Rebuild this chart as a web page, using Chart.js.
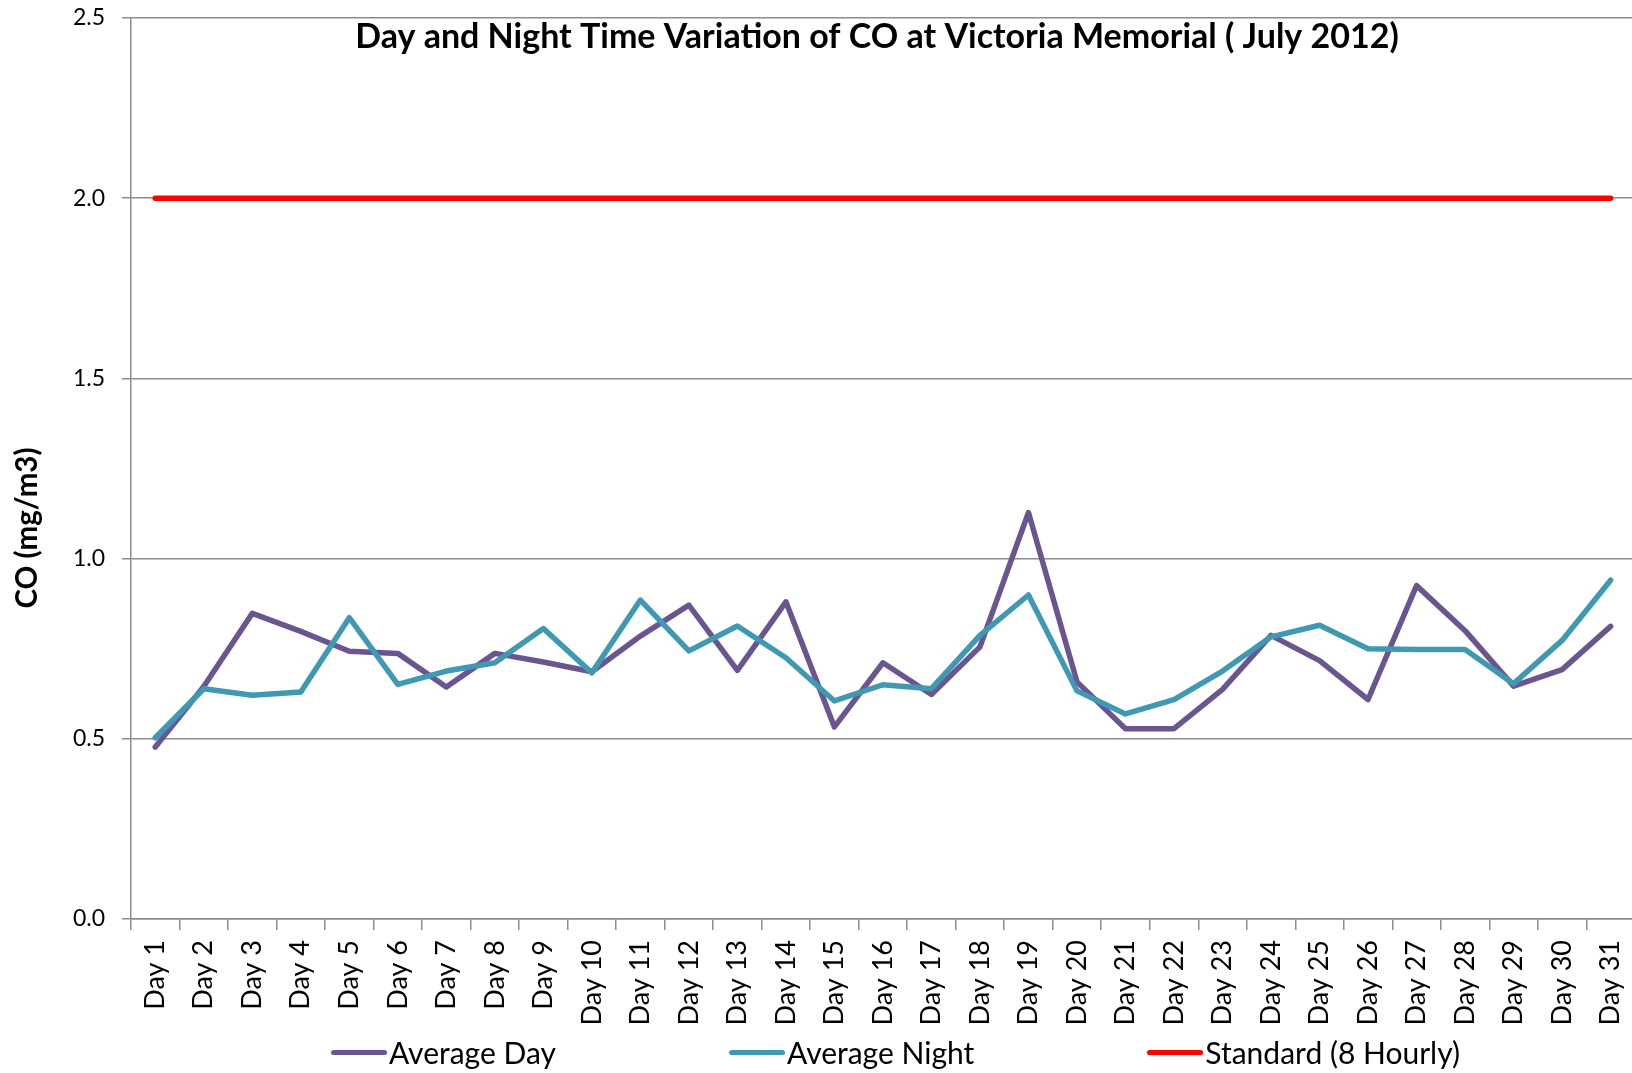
<!doctype html>
<html lang="en">
<head>
  <meta charset="utf-8">
  <title>CO at Victoria Memorial</title>
  <style>
    html, body { margin: 0; padding: 0; overflow: hidden; background: #fff; }
    #wrap { position: relative; width: 1653px; height: 1073px; }
    #legend {
      position: absolute; left: 331px; width: 1129px; top: 1034px;
      display: flex; justify-content: space-between; align-items: center;
      font-family: Lato, sans-serif; font-size: 30px; color: #000;
    }
    #legend .item { display: flex; align-items: center; white-space: nowrap; }
    #legend .swatch { width: 56px; height: 5px; border-radius: 3px; margin-right: 2px; }
  </style>
</head>
<body>
  <div id="wrap">
    <canvas id="myChart"></canvas>
    <div id="legend"></div>
  </div>
  <script src="https://cdn.jsdelivr.net/npm/chart.js"></script>
  <script>
    const days = Array.from({length: 31}, (_, i) => 'Day ' + (i + 1));

    const averageDay = [
      0.477, 0.645, 0.848, 0.798, 0.743, 0.737, 0.644, 0.737, 0.713, 0.686,
      0.785, 0.871, 0.690, 0.880, 0.533, 0.711, 0.623, 0.755, 1.128, 0.658,
      0.528, 0.528, 0.637, 0.787, 0.717, 0.609, 0.925, 0.800, 0.646, 0.692,
      0.812
    ];
    const averageNight = [
      0.503, 0.639, 0.621, 0.630, 0.836, 0.651, 0.688, 0.711, 0.806, 0.683,
      0.885, 0.744, 0.813, 0.725, 0.605, 0.650, 0.639, 0.787, 0.899, 0.633,
      0.569, 0.609, 0.688, 0.783, 0.815, 0.750, 0.748, 0.748, 0.653, 0.773,
      0.940
    ];
    const standard = Array(31).fill(2.0);
    const yTicks = [0, 0.5, 1.0, 1.5, 2.0, 2.5];

    const COLORS = {
      day: '#6B5591',
      night: '#3F99B2',
      standard: '#FF0000',
      grid: '#8C8C8C'
    };

    const FONT = 'Lato, sans-serif';

    const data = {
      labels: days,
      datasets: [
        { label: 'Average Day', data: averageDay, borderColor: COLORS.day, order: 2 },
        { label: 'Average Night', data: averageNight, borderColor: COLORS.night, order: 1 },
        { label: 'Standard (8 Hourly)', data: standard, borderColor: COLORS.standard, order: 0 }
      ]
    };
    data.datasets.forEach(ds => {
      ds.backgroundColor = ds.borderColor;
      ds.borderWidth = 5.5;
      ds.pointRadius = 0;
      ds.tension = 0;
      ds.fill = false;
      ds.borderCapStyle = 'round';
      ds.borderJoinStyle = 'round';
    });

    // title and y axis title sit inside / beside the plot like the Excel original
    const overlayText = {
      id: 'overlayText',
      afterDraw(chart) {
        const ctx = chart.ctx;
        ctx.save();
        ctx.fillStyle = '#000';
        ctx.textAlign = 'center';
        ctx.textBaseline = 'middle';
        ctx.font = 'bold 34px ' + FONT;
        ctx.fillText('Day and Night Time Variation of CO at Victoria Memorial ( July 2012)', 877, 37);
        ctx.translate(27, 528);
        ctx.rotate(-Math.PI / 2);
        ctx.font = 'bold 29.5px ' + FONT;
        ctx.fillText('CO (mg/m3)', 0, 0);
        ctx.restore();
      }
    };

    const config = {
      type: 'line',
      data: data,
      plugins: [overlayText],
      options: {
        responsive: true,
        maintainAspectRatio: false,
        animation: false,
        layout: { padding: { top: 18, right: 0, bottom: 0, left: 0 } },
        plugins: {
          legend: { display: false },
          title: { display: false },
          tooltip: { enabled: false }
        },
        scales: {
          x: {
            offset: true,
            afterFit: s => { s.height = 154; },
            grid: {
              offset: true,
              drawOnChartArea: false,
              drawTicks: true,
              tickLength: 11,
              color: COLORS.grid,
              lineWidth: 1.5
            },
            border: { color: COLORS.grid, width: 1.5 },
            ticks: {
              autoSkip: false,
              minRotation: 90,
              maxRotation: 90,
              padding: 10,
              color: '#000',
              font: { family: FONT, size: 27 }
            }
          },
          y: {
            min: 0,
            max: 2.5,
            afterFit: s => {
              s.width = 131;
              s.paddingTop = 12;
              s.paddingBottom = 12;
            },
            afterBuildTicks: s => { s.ticks = yTicks.map(v => ({ value: v })); },
            grid: {
              color: COLORS.grid,
              lineWidth: 1.5,
              tickLength: 9
            },
            border: { color: COLORS.grid, width: 1.5 },
            ticks: {
              padding: 17,
              color: '#000',
              font: { family: FONT, size: 23 },
              callback: v => v.toFixed(1)
            }
          }
        }
      }
    };

    const myChart = new Chart(document.getElementById('myChart'), config);

    const legendBox = document.getElementById('legend');
    data.datasets.forEach(ds => {
      const item = document.createElement('div');
      item.className = 'item';
      const sw = document.createElement('span');
      sw.className = 'swatch';
      sw.style.background = ds.borderColor;
      const txt = document.createElement('span');
      txt.textContent = ds.label;
      item.appendChild(sw);
      item.appendChild(txt);
      legendBox.appendChild(item);
    });
  </script>
</body>
</html>
